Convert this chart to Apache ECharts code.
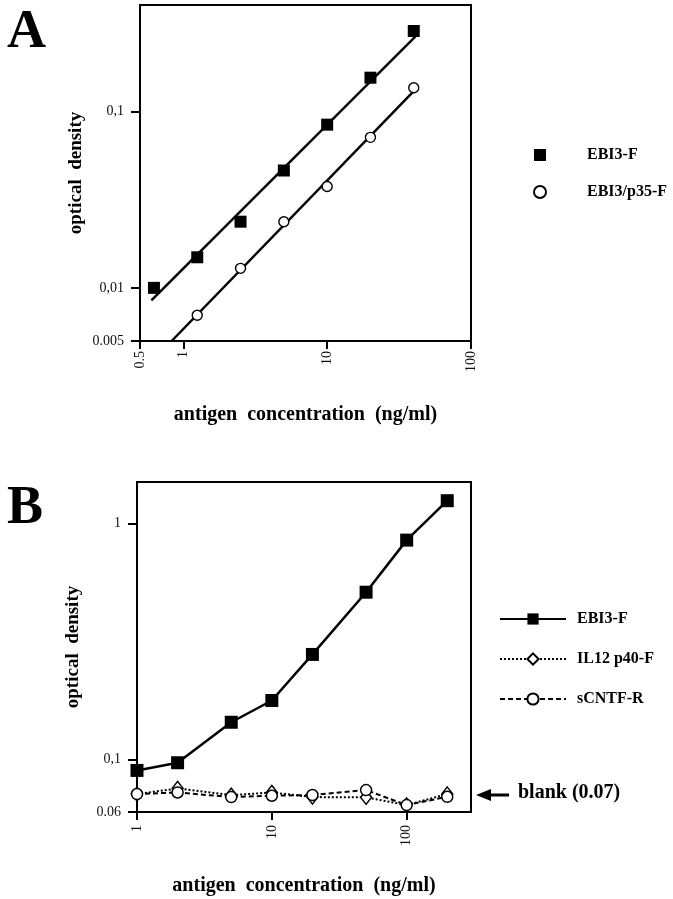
<!DOCTYPE html>
<html>
<head>
<meta charset="utf-8">
<script src="https://cdn.jsdelivr.net/npm/echarts@6/dist/echarts.min.js"></script>
<style>
html,body{margin:0;padding:0;background:#fff;}
#chart{width:673px;height:899px;}
</style>
</head>
<body>
<div id="chart"></div>
<script>
// ---- Panel A data ----
const concA = [0.625, 1.25, 2.5, 5, 10, 20, 40];
const ebi3A = [0.0100, 0.0149, 0.0237, 0.0462, 0.084, 0.155, 0.285];
const concA2 = [1.25, 2.5, 5, 10, 20, 40];
const p35A = [0.0070, 0.0129, 0.0237, 0.0375, 0.0712, 0.136];
const fitEbi3X = [0.6, 41];
const fitEbi3Y = [0.0085, 0.265];
const fitP35X = [0.83, 40];
const fitP35Y = [0.005, 0.13];
const xTicksA = [0.5, 1, 10, 100];
const xLabelsA = ['0.5', '1', '10', '100'];
const yTicksA = [0.005, 0.01, 0.1];
const yLabelsA = ['0.005', '0,01', '0,1'];

// ---- Panel B data ----
const concB = [1, 2, 5, 10, 20, 50, 100, 200];
const ebi3B = [0.090, 0.097, 0.144, 0.178, 0.279, 0.512, 0.851, 1.25];
const il12B = [0.0715, 0.0755, 0.0707, 0.0726, 0.0694, 0.0692, 0.0642, 0.0715];
const cntfB = [0.0715, 0.0726, 0.0694, 0.0703, 0.0708, 0.0743, 0.0642, 0.0696];
const xTicksB = [1, 10, 100];
const xLabelsB = ['1', '10', '100'];
const yTicksB = [0.06, 0.1, 1];
const yLabelsB = ['0.06', '0,1', '1'];

const zip = (xs, ys) => xs.map((x, i) => [x, ys[i]]);
const fmt = (ticks, labels) => v => {
  const i = ticks.findIndex(t => Math.abs(Math.log10(t) - Math.log10(v)) < 1e-6);
  return i >= 0 ? labels[i] : '';
};
const SERIF = 'Liberation Serif';
const tickLabel = {fontFamily: SERIF, fontSize: 14, color: '#111'};

function xAxis(gi, min, max, ticks, labels, margin) {
  return {
    type: 'log', gridIndex: gi, min: min, max: max,
    axisLine: {show: true, onZero: false, lineStyle: {color: '#000', width: 2}},
    axisTick: {show: true, length: 8, customValues: ticks, lineStyle: {color: '#000', width: 2}},
    axisLabel: Object.assign({rotate: 90, margin: margin, customValues: ticks, formatter: fmt(ticks, labels)}, tickLabel),
    minorTick: {show: false}, splitLine: {show: false},
    name: 'antigen  concentration  (ng/ml)', nameLocation: 'middle', nameGap: 64,
    nameTextStyle: {fontFamily: SERIF, fontWeight: 'bold', fontSize: 20, color: '#000'}
  };
}
function yAxis(gi, min, max, ticks, labels) {
  return {
    type: 'log', gridIndex: gi, min: min, max: max,
    axisLine: {show: true, onZero: false, lineStyle: {color: '#000', width: 2}},
    axisTick: {show: true, length: 9, customValues: ticks, lineStyle: {color: '#000', width: 2}},
    axisLabel: Object.assign({margin: 16, customValues: ticks, formatter: fmt(ticks, labels)}, tickLabel),
    minorTick: {show: false}, splitLine: {show: false},
    name: 'optical  density', nameLocation: 'middle', nameGap: 54,
    nameTextStyle: {fontFamily: SERIF, fontWeight: 'bold', fontSize: 19, color: '#000'}
  };
}

const chart = echarts.init(document.getElementById('chart'), null, {renderer: 'canvas'});
chart.setOption({
  animation: false,
  backgroundColor: '#fff',
  grid: [
    {left: 140, top: 5, width: 331, height: 336, show: true, borderColor: '#000', borderWidth: 2, backgroundColor: 'transparent'},
    {left: 137, top: 482, width: 334, height: 330, show: true, borderColor: '#000', borderWidth: 2, backgroundColor: 'transparent'}
  ],
  xAxis: [
    xAxis(0, 0.5, 100, xTicksA, xLabelsA, 10),
    xAxis(1, 1, 300, xTicksB, xLabelsB, 13)
  ],
  yAxis: [
    yAxis(0, 0.005, 0.4, yTicksA, yLabelsA),
    yAxis(1, 0.06, 1.5, yTicksB, yLabelsB)
  ],
  legend: [
    {
      orient: 'vertical', left: 528, top: 142, itemWidth: 12, itemHeight: 12, itemGap: 21,
      data: ['EBI3-F', 'EBI3/p35-F'],
      textStyle: {fontFamily: SERIF, fontWeight: 'bold', fontSize: 16, color: '#000', padding: [0, 0, 0, 36]}
    },
    {
      orient: 'vertical', left: 494, top: 606, itemWidth: 66, itemHeight: 14, itemGap: 24,
      data: ['EBI3-F ', 'IL12 p40-F', 'sCNTF-R'],
      textStyle: {fontFamily: SERIF, fontWeight: 'bold', fontSize: 16, color: '#000', padding: [0, 0, 0, 6]}
    }
  ],
  series: [
    {type: 'line', name: 'fitA1', xAxisIndex: 0, yAxisIndex: 0, data: zip(fitEbi3X, fitEbi3Y),
     showSymbol: false, lineStyle: {color: '#000', width: 2.5}, z: 2, silent: true},
    {type: 'line', name: 'fitA2', xAxisIndex: 0, yAxisIndex: 0, data: zip(fitP35X, fitP35Y),
     showSymbol: false, lineStyle: {color: '#000', width: 2.5}, z: 2, silent: true},
    {type: 'scatter', name: 'EBI3-F', xAxisIndex: 0, yAxisIndex: 0, data: zip(concA, ebi3A),
     symbol: 'rect', symbolSize: 12, itemStyle: {color: '#000', opacity: 1}, z: 3},
    {type: 'scatter', name: 'EBI3/p35-F', xAxisIndex: 0, yAxisIndex: 0, data: zip(concA2, p35A),
     symbol: 'circle', symbolSize: 10, itemStyle: {color: '#fff', borderColor: '#000', borderWidth: 1.4, opacity: 1}, z: 3},

    {type: 'line', name: 'IL12 p40-F', xAxisIndex: 1, yAxisIndex: 1, data: zip(concB, il12B),
     symbol: 'diamond', symbolSize: [11, 14], showAllSymbol: true,
     lineStyle: {color: '#000', width: 2, type: 'dotted'},
     itemStyle: {color: '#fff', borderColor: '#000', borderWidth: 1.5}, z: 3},
    {type: 'line', name: 'sCNTF-R', xAxisIndex: 1, yAxisIndex: 1, data: zip(concB, cntfB),
     symbol: 'circle', symbolSize: 11, showAllSymbol: true,
     lineStyle: {color: '#000', width: 2, type: [5, 3]},
     itemStyle: {color: '#fff', borderColor: '#000', borderWidth: 1.5}, z: 3},
    {type: 'line', name: 'EBI3-F ', xAxisIndex: 1, yAxisIndex: 1, data: zip(concB, ebi3B),
     symbol: 'rect', symbolSize: 13, showAllSymbol: true,
     lineStyle: {color: '#000', width: 2.5},
     itemStyle: {color: '#000'}, z: 4}
  ],
  graphic: [
    {type: 'text', left: 7, top: 6, style: {text: 'A', fontFamily: SERIF, fontWeight: 'bold', fontSize: 54, fill: '#000'}},
    {type: 'text', left: 7, top: 482, style: {text: 'B', fontFamily: SERIF, fontWeight: 'bold', fontSize: 54, fill: '#000'}},
    {type: 'line', shape: {x1: 488, y1: 795, x2: 509, y2: 795}, style: {stroke: '#000', lineWidth: 3}},
    {type: 'polygon', shape: {points: [[476, 795], [491, 789], [491, 801]]}, style: {fill: '#000'}},
    {type: 'text', left: 518, top: 783, style: {text: 'blank (0.07)', fontFamily: SERIF, fontWeight: 'bold', fontSize: 20, fill: '#000'}}
  ]
});
</script>
</body>
</html>
